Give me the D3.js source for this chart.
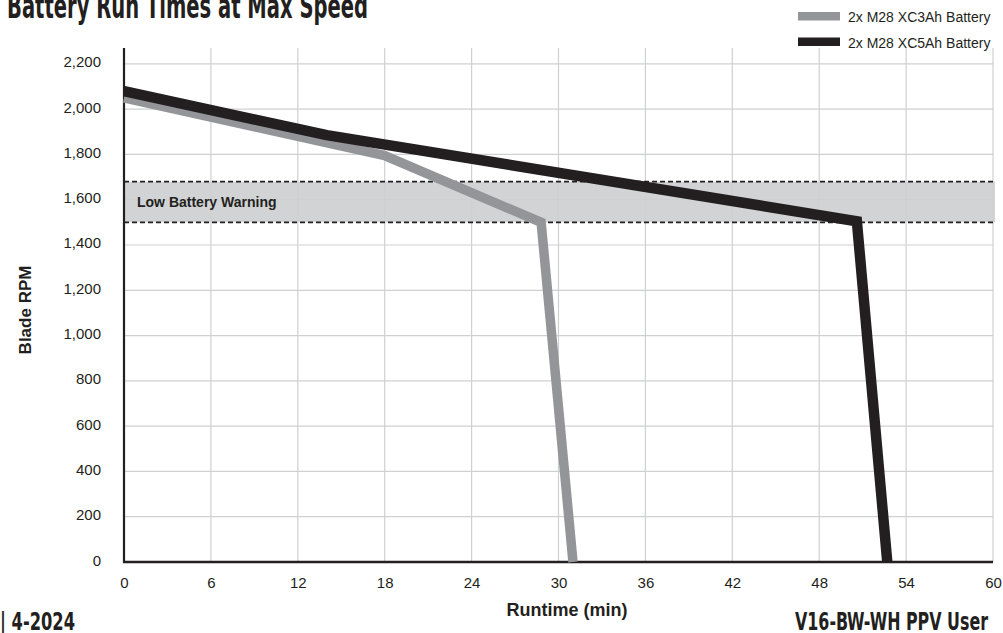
<!DOCTYPE html>
<html>
<head>
<meta charset="utf-8">
<script src="https://cdn.jsdelivr.net/npm/d3@7"></script>
<style>
  html, body { margin: 0; padding: 0; background: #fff; }
  svg { display: block; }
  text { font-family: "Liberation Sans", Arial, sans-serif; fill: #231f20; }
  .cond { font-family: "Liberation Sans Narrow", "DejaVu Sans Condensed", "Liberation Sans", sans-serif; font-weight: bold; }
</style>
</head>
<body>
<svg id="chart" width="1003" height="633"></svg>
<script>
// ---- data ----
const xTicks = [0, 6, 12, 18, 24, 30, 36, 42, 48, 54, 60];
const yTicks = [0, 200, 400, 600, 800, 1000, 1200, 1400, 1600, 1800, 2000, 2200];
const xDomain = [0, 60];
const yDomain = [0, 2270];
const seriesNames = ["2x M28 XC3Ah Battery", "2x M28 XC5Ah Battery"];
const xc3Time = [0, 18, 28.8, 31.0];
const xc3Rpm  = [2050, 1795, 1500, 0];
const xc5Time = [0, 14, 50.6, 52.7];
const xc5Rpm  = [2080, 1885, 1505, 0];
const warningBand = [1500, 1680];
const warningLabel = "Low Battery Warning";
const titleText = "Battery Run Times at Max Speed";
const footerLeft = "| 4-2024";
const footerRight = "V16-BW-WH PPV User";
const xLabel = "Runtime (min)";
const yLabel = "Blade RPM";

// ---- layout ----
const svg = d3.select("#chart");
const L = 124, R = 993, T = 48, B = 562;
const x = d3.scaleLinear().domain(xDomain).range([L, R]);
const y = d3.scaleLinear().domain(yDomain).range([B, T]);
const INK = "#231f20", GRAY = "#939598", GRID = "#cfd0d2", BAND = "#d1d3d4";

// warning band
svg.append("rect")
  .attr("x", x(0)).attr("width", x(60) - x(0) + 2)
  .attr("y", y(warningBand[1])).attr("height", y(warningBand[0]) - y(warningBand[1]))
  .attr("fill", BAND);

// gridlines
svg.append("g").selectAll("line").data(yTicks.filter(d => d > 0)).join("line")
  .attr("x1", x(0)).attr("x2", x(60))
  .attr("y1", d => y(d)).attr("y2", d => y(d))
  .attr("stroke", GRID).attr("stroke-width", 1.2);
svg.append("g").selectAll("line").data(xTicks.filter(d => d > 0)).join("line")
  .attr("x1", d => x(d)).attr("x2", d => x(d))
  .attr("y1", y(yDomain[1])).attr("y2", y(0))
  .attr("stroke", GRID).attr("stroke-width", 1.2);

// band dashed borders
svg.append("g").selectAll("line").data(warningBand).join("line")
  .attr("x1", x(0)).attr("x2", x(60) + 2)
  .attr("y1", d => y(d)).attr("y2", d => y(d))
  .attr("stroke", INK).attr("stroke-width", 1.6)
  .attr("stroke-dasharray", "5,3");

svg.append("text")
  .attr("x", x(0) + 13).attr("y", y((warningBand[0] + warningBand[1]) / 2))
  .attr("dy", "0.35em")
  .style("font-size", "14px").style("font-weight", "bold")
  .text(warningLabel);

// axes
const yAxis = d3.axisLeft(y).tickValues(yTicks).tickSize(0).tickPadding(23)
  .tickFormat(d3.format(","));
const gy = svg.append("g").attr("transform", `translate(${L},0)`).call(yAxis);
gy.select(".domain").remove();
gy.selectAll("text").style("font-size", "15px").style("font-family", "Liberation Sans, Arial, sans-serif").attr("fill", INK).attr("dy", "0.2em");

const xAxis = d3.axisBottom(x).tickValues(xTicks).tickSize(0).tickPadding(15);
const gx = svg.append("g").attr("transform", `translate(0,${B})`).call(xAxis);
gx.select(".domain").remove();
gx.selectAll("text").style("font-size", "15px").style("font-family", "Liberation Sans, Arial, sans-serif").attr("fill", INK);

// axis lines
svg.append("line").attr("x1", x(0)).attr("x2", x(0)).attr("y1", y(yDomain[1])).attr("y2", y(0) + 1)
  .attr("stroke", INK).attr("stroke-width", 2.2);
svg.append("line").attr("x1", x(0) - 1).attr("x2", x(60)).attr("y1", y(0)).attr("y2", y(0))
  .attr("stroke", INK).attr("stroke-width", 2.4);

// series lines
const line = d3.line().x(d => x(d[0])).y(d => y(d[1]));
const xc3 = xc3Time.map((t, i) => [t, xc3Rpm[i]]);
const xc5 = xc5Time.map((t, i) => [t, xc5Rpm[i]]);
svg.append("path").datum(xc3).attr("d", line)
  .attr("fill", "none").attr("stroke", GRAY).attr("stroke-width", 9.5)
  .attr("stroke-linejoin", "miter").attr("stroke-linecap", "butt");
svg.append("path").datum(xc5).attr("d", line)
  .attr("fill", "none").attr("stroke", INK).attr("stroke-width", 10.5)
  .attr("stroke-linejoin", "miter").attr("stroke-linecap", "butt");

// axis titles
svg.append("text").attr("x", 567).attr("y", 616).attr("text-anchor", "middle")
  .style("font-size", "18px").style("font-weight", "bold").text(xLabel);
svg.append("text").attr("transform", "translate(31,310) rotate(-90)").attr("text-anchor", "middle")
  .style("font-size", "17px").style("font-weight", "bold").text(yLabel);

// legend
const legend = svg.append("g");
const colors = [GRAY, INK];
seriesNames.forEach((name, i) => {
  legend.append("rect").attr("x", 798).attr("y", 12 + i * 25.5).attr("width", 42).attr("height", 8.5)
    .attr("fill", colors[i]);
  legend.append("text").attr("x", 848).attr("y", 22 + i * 25.5)
    .style("font-size", "14px").text(name);
});

// title and footers (display font, condensed)
svg.append("text").attr("class", "cond").attr("x", 7).attr("y", 18)
  .style("font-size", "33px").attr("textLength", 361).attr("lengthAdjust", "spacingAndGlyphs")
  .text(titleText);
svg.append("text").attr("class", "cond").attr("x", 0).attr("y", 630)
  .style("font-size", "24px").attr("textLength", 75).attr("lengthAdjust", "spacingAndGlyphs")
  .text(footerLeft);
svg.append("text").attr("class", "cond").attr("x", 795).attr("y", 630)
  .style("font-size", "24px").attr("textLength", 193).attr("lengthAdjust", "spacingAndGlyphs")
  .text(footerRight);
</script>
</body>
</html>
